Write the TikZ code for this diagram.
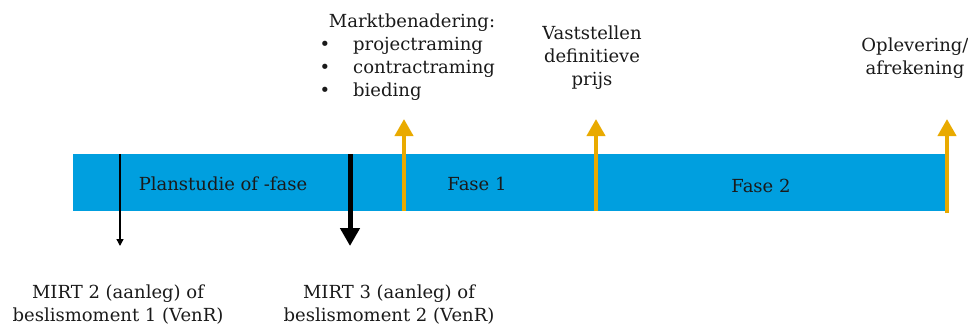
\documentclass[tikz,border=0pt]{standalone}
\usepackage{fontspec}
\setmainfont{DejaVu Serif}
\usetikzlibrary{arrows.meta}
\definecolor{bandblue}{HTML}{009FDF}
\definecolor{gold}{HTML}{E9AA00}
\definecolor{txt}{HTML}{1A1A1A}
\tikzset{
  lbl/.style={font=\fontsize{18}{23}\selectfont, text=txt, inner sep=0pt, align=center},
  goldarrow/.style={draw=gold, line width=4pt, -{Triangle[width=18pt,length=17pt]}},
  thinarrow/.style={draw=black, line width=1.4pt, -{Triangle[width=7pt,length=7pt]}},
  thickarrow/.style={draw=black, line width=5pt, -{Triangle[width=19pt,length=18pt]}},
}
\begin{document}
\begin{tikzpicture}[x=1pt,y=-1pt]
\useasboundingbox (0,0) rectangle (968,326);
% band
\node[fill=bandblue, inner sep=0pt, minimum width=873pt, minimum height=57pt, anchor=north west] (band) at (73,154) {};
% phase labels
\node[lbl] (plan) at (223,184) {Planstudie of -fase};
\node[lbl] (f1) at (477,184) {Fase 1};
\node[lbl] (f2) at (761,186) {Fase 2};
% black arrows
\coordinate (b1s) at (120,154);
\coordinate (b1e) at (120,246);
\coordinate (b2s) at (350,154);
\coordinate (b2e) at (350,246);
\draw[thinarrow] (b1s) -- (b1e);
\draw[thickarrow] (b2s) -- (b2e);
% gold arrows
\coordinate (g1s) at (404,211);
\coordinate (g1e) at (404,119);
\coordinate (g2s) at (596,211);
\coordinate (g2e) at (596,119);
\coordinate (g3s) at (947,213);
\coordinate (g3e) at (947,119);
\draw[goldarrow] (g1s) -- (g1e);
\draw[goldarrow] (g2s) -- (g2e);
\draw[goldarrow] (g3s) -- (g3e);
% top labels
\node[lbl] (mb) at (412,23) {Marktbenadering:};
\node[lbl] (bu1) at (325,46) {•};
\node[lbl] (bu2) at (325,69) {•};
\node[lbl] (bu3) at (325,92) {•};
\node[lbl, anchor=west] (i1) at (353,46) {projectraming};
\node[lbl, anchor=west] (i2) at (353,69) {contractraming};
\node[lbl, anchor=west] (i3) at (353,92) {bieding};
\node[lbl] (vp) at (592,58) {Vaststellen\\definitieve\\prijs};
\node[lbl] (op) at (915,58.5) {Oplevering/\\afrekening};
% bottom labels
\node[lbl] (m2) at (118,304.5) {MIRT 2 (aanleg) of\\beslismoment 1 (VenR)};
\node[lbl] (m3) at (389,304.5) {MIRT 3 (aanleg) of\\beslismoment 2 (VenR)};
\end{tikzpicture}
\end{document}
